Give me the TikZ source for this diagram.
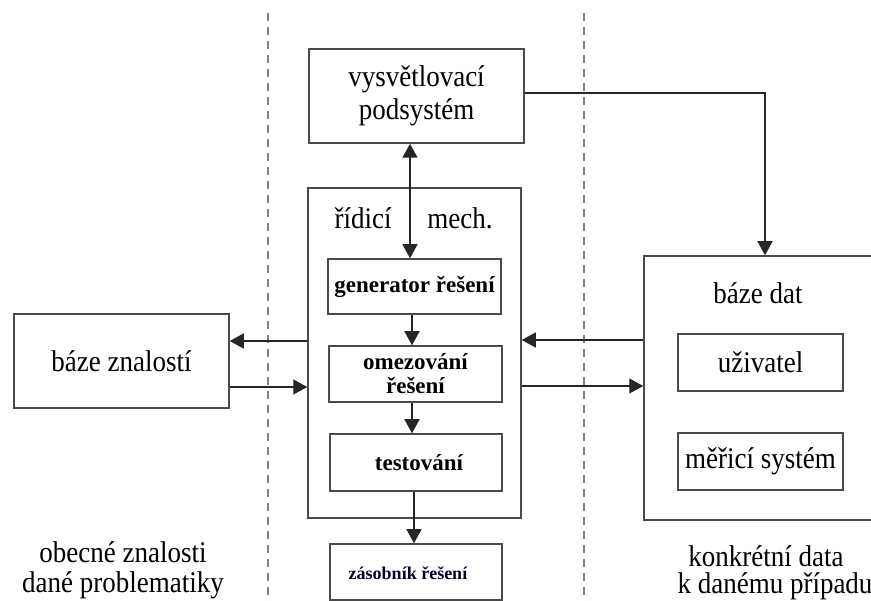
\documentclass[tikz,border=0pt]{standalone}
\usepackage{fontspec}
\setmainfont{Liberation Serif}
\newfontfamily\bigfont[FakeStretch=0.9]{Liberation Serif}
\usetikzlibrary{arrows.meta,calc}
\tikzset{
  box/.style={draw=lineC, line width=1.5pt, fill=white, inner sep=0pt, align=center},
  conn/.style={draw=black!85, line width=1.4pt, -{Triangle[length=14pt,width=15pt]}},
  conn2/.style={draw=black!85, line width=1.4pt, {Triangle[length=14pt,width=15pt]}-{Triangle[length=14pt,width=15pt]}},
  sep/.style={draw=black!50, line width=1.6pt, dash pattern=on 8pt off 6pt},
  big/.style={font=\bigfont\fontsize{30}{33}\selectfont},
  bfs/.style={font=\fontsize{23}{24}\selectfont\bfseries},
  lbl/.style={big, inner sep=0pt, anchor=base},
}
\definecolor{lineC}{HTML}{4A4A4A}
\begin{document}
\begin{tikzpicture}[x=1pt,y=-1pt]
\useasboundingbox (0,0) rectangle (871,601);
\clip (0,0) rectangle (871,601);
% separators
\draw[sep] (268,13) -- (268,601);
\draw[sep] (584,13) -- (584,601);
% boxes
\node[box, big, minimum width=215pt, minimum height=94pt] (vys) at (416.5,96) {vysvětlovací\\podsystém};
\node[box, minimum width=213pt, minimum height=330pt] (ctrl) at (414.5,353) {};
\node[big, anchor=center] (ridici) at (363,218) {řídicí};
\node[big, anchor=center] (mech) at (460,218) {mech.};
\node[box, bfs, minimum width=173pt, minimum height=55pt] (gen) at (414.5,286.5) {generator řešení};
\node[box, bfs, minimum width=173pt, minimum height=56pt] (omez) at (415.5,374) {omezování\\řešení};
\node[box, bfs, minimum width=172pt, minimum height=57pt, text width=160pt] (test) at (416,462.5) {\hspace*{6pt}testování};
\node[box, minimum width=172pt, minimum height=56pt] (zas) at (416,572) {};
\node[font=\fontsize{18}{20}\selectfont\bfseries, text=black!85!blue] (zastext) at (408,573) {zásobník řešení};
\node[box, big, minimum width=215pt, minimum height=94pt] (bz) at (121.5,361) {báze znalostí};
\node[box, minimum width=236pt, minimum height=264pt] (bd) at (762,388) {};
\node[big] (bdtext) at (758,293) {báze dat};
\node[box, big, minimum width=165pt, minimum height=57pt] (uz) at (760.5,362.5) {uživatel};
\node[box, big, minimum width=165pt, minimum height=57pt] (mer) at (760.5,461.5) {měřicí systém};
% bottom labels
\node[lbl] (obec1) at (123,563) {obecné znalosti};
\node[lbl] (obec2) at (123,593) {dané problematiky};
\node[lbl] (konk1) at (766,567) {konkrétní data};
\node[lbl] (konk2) at (775,594) {k danému případu};
% connectors
\draw[conn2] ([xshift=-6.5]vys.south) -- ([xshift=-4.5]gen.north);
\draw[conn] ([xshift=-2.5]gen.south) -- ([xshift=-3.5]omez.north);
\draw[conn] ([xshift=-3.5]omez.south) -- ([xshift=-4]test.north);
\draw[conn] ([xshift=-2]test.south) -- ([xshift=-2]zas.north);
\coordinate (cl1) at ([yshift=12]ctrl.west);
\coordinate (cl2) at ([yshift=-34]ctrl.west);
\coordinate (cr1) at ([yshift=13]ctrl.east);
\coordinate (cr2) at ([yshift=-33]ctrl.east);
\draw[conn] (cl1) -- (cl1 -| bz.east);
\draw[conn] (cl2 -| bz.east) -- (cl2);
\draw[conn] (cr1 -| bd.west) -- (cr1);
\draw[conn] (cr2) -- (cr2 -| bd.west);
\coordinate (vr) at ([yshift=3]vys.east);
\coordinate (bdn) at ([xshift=3]bd.north);
\draw[conn] (vr) -| (bdn);
\end{tikzpicture}
\end{document}
